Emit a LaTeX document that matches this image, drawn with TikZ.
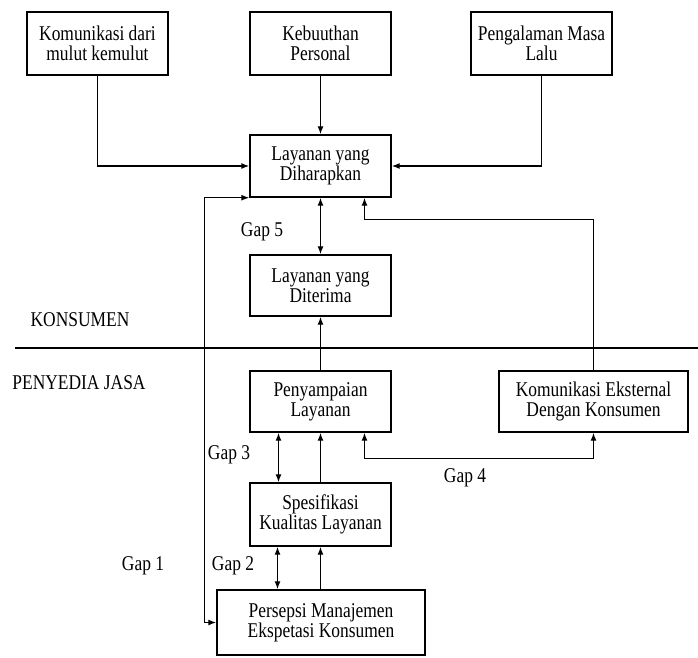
\documentclass[tikz,border=0pt]{standalone}
\usepackage{fontspec}
\setmainfont{Liberation Serif}[FakeStretch=0.83]
\usetikzlibrary{arrows.meta}
\begin{document}
\begin{tikzpicture}[x=1pt,y=-1pt,
  box/.style={draw,line width=1.4pt,align=center,inner sep=0pt,
    font=\fontsize{21}{20}\selectfont},
  lab/.style={font=\fontsize{21}{20}\selectfont,inner sep=0pt},
  every path/.style={line width=1.3pt},
  >={Latex[length=8pt,width=6pt]}]
\useasboundingbox (0,0) rectangle (698,657);
\node[box,minimum width=141pt,minimum height=63pt] (kom) at (97.5,43.5) {Komunikasi dari\\mulut kemulut};
\node[box,minimum width=141pt,minimum height=63pt] (keb) at (320.5,43.5) {Kebuuthan\\Personal};
\node[box,minimum width=141pt,minimum height=63pt] (peng) at (541.5,43.5) {Pengalaman Masa\\Lalu};
\node[box,minimum width=141pt,minimum height=62pt] (harap) at (320.5,166) {Layanan yang\\Diharapkan};
\node[box,minimum width=141pt,minimum height=61pt] (diter) at (320.5,285.5) {Layanan yang\\Diterima};
\node[box,minimum width=141pt,minimum height=61pt] (peny) at (320.5,401.5) {Penyampaian\\Layanan};
\node[box,minimum width=189pt,minimum height=61pt] (kek) at (593.5,401.5) {Komunikasi Eksternal\\Dengan Konsumen};
\node[box,minimum width=141pt,minimum height=63pt] (spes) at (320.5,514.5) {Spesifikasi\\Kualitas Layanan};
\node[box,minimum width=208pt,minimum height=65pt] (pers) at (321,622.5) {Persepsi Manajemen\\Ekspetasi Konsumen};

\node[lab] (kons) at (80,320) {KONSUMEN};
\node[lab] (penj) at (79,383) {PENYEDIA JASA};
\node[lab] (g5) at (262,232) {Gap 5};
\node[lab] (g3) at (229,455) {Gap 3};
\node[lab] (g4) at (465,478) {Gap 4};
\node[lab] (g1) at (143,566) {Gap 1};
\node[lab] (g2) at (233,566) {Gap 2};

\coordinate (divL) at (15,348);
\coordinate (divR) at (698,348);
\draw (divL) -- (divR);

\draw[->] (kom.south) |- (harap.west);
\draw[->] (keb.south) -- (harap.north);
\draw[->] (peng.south) |- (harap.east);
\draw[<->] (harap.south west) -- ++(-45,0) |- (pers.west);
\draw[<->] (harap.south) -- (diter.north);
\draw[->] (peny.north) -- (diter.south);
\coordinate (h1) at ([xshift=44pt]harap.south);
\draw[->] (kek.north) |- ([yshift=-22pt]h1) -- (h1);
\draw[<->] ([xshift=-42pt]peny.south) -- ([xshift=-42pt]spes.north);
\draw[->] (spes.north) -- (peny.south);
\draw[<->] ([xshift=44pt]peny.south) -- ++(0,26) -| (kek.south);
\draw[<->] ([xshift=-43pt]spes.south) -- ([xshift=-43pt]spes.south |- pers.north);
\draw[->] (spes.south |- pers.north) -- (spes.south);
\end{tikzpicture}
\end{document}
